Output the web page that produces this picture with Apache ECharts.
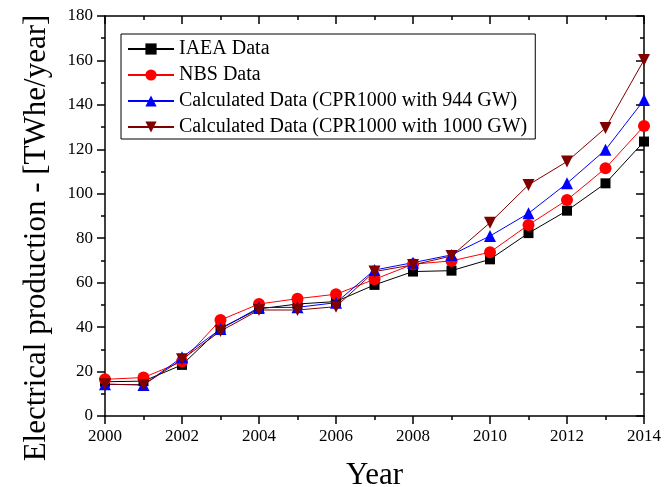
<!DOCTYPE html>
<html>
<head>
<meta charset="utf-8">
<script src="https://cdn.jsdelivr.net/npm/echarts@6/dist/echarts.min.js"></script>
<style>
html,body{margin:0;padding:0;background:#fff;}
#chart{width:664px;height:487px;}
</style>
</head>
<body>
<div id="chart"></div>
<script>
var years = [2000,2001,2002,2003,2004,2005,2006,2007,2008,2009,2010,2011,2012,2013,2014];
var iaea = [15.4,15.7,23.0,39.5,48.2,50.4,51.5,59.0,65.0,65.4,70.5,82.3,92.4,104.7,123.5];
var nbs = [16.5,17.3,24.5,43.2,50.4,52.8,54.8,61.5,68.3,69.8,73.7,86.0,97.2,111.5,130.5];
var calc944 = [14.3,14.0,26.4,39.1,48.8,48.9,51.0,65.7,69.0,72.5,81.0,91.2,104.7,119.8,142.2];
var calc1000 = [14.3,14.0,25.5,38.2,47.7,47.7,49.2,65.0,68.0,72.0,87.0,104.0,114.5,129.6,160.2];
var seriesNames = ['IAEA Data','NBS Data','Calculated Data (CPR1000 with 944 GW)','Calculated Data (CPR1000 with 1000 GW)'];
var yTitle = 'Electrical production - [TWhe/year]';
var xTitle = 'Year';

function pairs(vals){ return years.map(function(y,i){ return [y, vals[i]]; }); }

var FONT = "'Liberation Serif','Times New Roman',serif";
var axisLineStyle = {color:'#000', width:1.5};

var chart = echarts.init(document.getElementById('chart'), null, {renderer:'canvas'});
chart.setOption({
  animation:false,
  backgroundColor:'#fff',
  grid:{left:105, right:20, top:16, bottom:71, containLabel:false, outerBoundsMode:'none'},
  legend:{
    left:121, top:34, orient:'vertical',
    itemWidth:46, itemHeight:14, itemGap:6,
    padding:[5,8,2,6],
    borderColor:'#000', borderWidth:1,
    backgroundColor:'#fff',
    textStyle:{fontFamily:FONT, fontSize:20, color:'#000', lineHeight:20},
    data:seriesNames
  },
  graphic:[{
    type:'text', x:37, y:238, rotation:Math.PI/2,
    style:{text:yTitle, fontFamily:FONT, fontSize:31, fill:'#000', align:'center', verticalAlign:'middle'}
  }],
  xAxis:[{
    type:'value', min:2000, max:2014, interval:2, position:'bottom',
    axisLine:{show:true, onZero:false, lineStyle:axisLineStyle},
    axisTick:{show:true, inside:false, length:8, lineStyle:axisLineStyle},
    minorTick:{show:true, splitNumber:2, length:4, lineStyle:{color:'#000', width:1.5}},
    splitLine:{show:false},
    axisLabel:{margin:12, fontFamily:FONT, fontSize:17, color:'#000', formatter:function(v){return String(v);}},
    name:xTitle, nameLocation:'middle', nameGap:44,
    nameTextStyle:{fontFamily:FONT, fontSize:31, color:'#000'}
  },{
    type:'value', min:2000, max:2014, interval:2, position:'top',
    axisLine:{show:true, onZero:false, lineStyle:axisLineStyle},
    axisTick:{show:true, inside:true, length:8, lineStyle:axisLineStyle},
    minorTick:{show:true, splitNumber:2, length:4, lineStyle:{color:'#000', width:1.5}},
    splitLine:{show:false},
    axisLabel:{show:false}
  }],
  yAxis:[{
    type:'value', min:0, max:180, interval:20, position:'left',
    axisLine:{show:true, onZero:false, lineStyle:axisLineStyle},
    axisTick:{show:true, inside:false, length:8, lineStyle:axisLineStyle},
    minorTick:{show:true, splitNumber:2, length:4, lineStyle:{color:'#000', width:1.5}},
    splitLine:{show:false},
    axisLabel:{margin:12, fontFamily:FONT, fontSize:17, color:'#000'}
  },{
    type:'value', min:0, max:180, interval:20, position:'right',
    axisLine:{show:true, onZero:false, lineStyle:axisLineStyle},
    axisTick:{show:true, inside:true, length:8, lineStyle:axisLineStyle},
    minorTick:{show:true, splitNumber:2, length:4, lineStyle:{color:'#000', width:1.5}},
    splitLine:{show:false},
    axisLabel:{show:false}
  }],
  series:[{
    name:seriesNames[0], type:'line', data:pairs(iaea),
    symbol:'rect', symbolSize:10,
    lineStyle:{color:'#000', width:1}, itemStyle:{color:'#000'}
  },{
    name:seriesNames[1], type:'line', data:pairs(nbs),
    symbol:'circle', symbolSize:12,
    lineStyle:{color:'#ff0000', width:1}, itemStyle:{color:'#ff0000'}
  },{
    name:seriesNames[2], type:'line', data:pairs(calc944),
    symbol:'triangle', symbolSize:12,
    lineStyle:{color:'#0000ff', width:1}, itemStyle:{color:'#0000ff'}
  },{
    name:seriesNames[3], type:'line', data:pairs(calc1000),
    symbol:'triangle', symbolSize:12, symbolRotate:180,
    lineStyle:{color:'#800000', width:1}, itemStyle:{color:'#800000'}
  }]
});
</script>
</body>
</html>
